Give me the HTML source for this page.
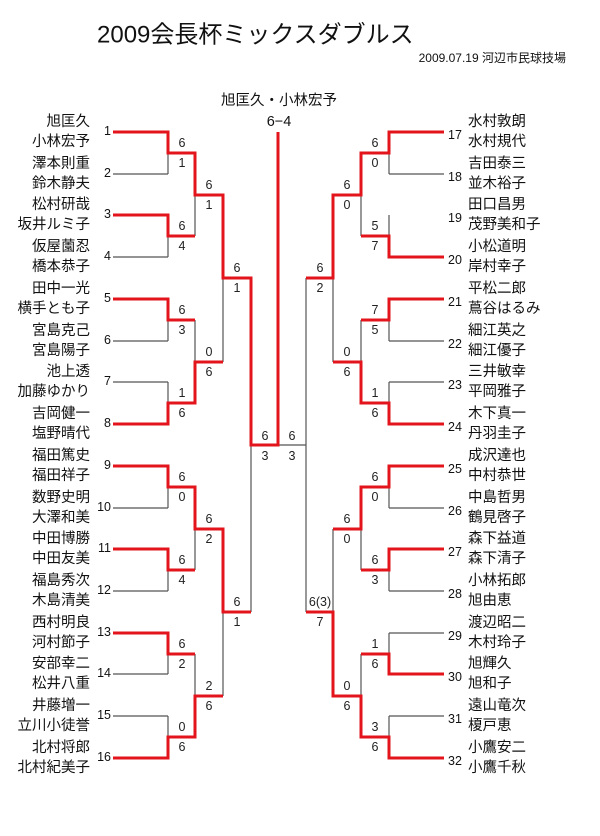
<!DOCTYPE html>
<html><head><meta charset="utf-8">
<style>
html,body{margin:0;padding:0;background:#fff;}
svg{display:block;}
text{font-family:"Liberation Sans","Noto Sans CJK JP",sans-serif;dominant-baseline:central;fill:#111;}
.nm{font-size:14.5px;}
.nl{text-anchor:end;}
.num{font-size:12.5px;}
.sc{font-size:12.5px;text-anchor:middle;fill:#222;}
</style></head><body>
<svg width="600" height="836" viewBox="0 0 600 836" xmlns="http://www.w3.org/2000/svg">
<text x="97" y="35" style="font-size:24px">2009会長杯ミックスダブルス</text>
<text x="566" y="58" style="font-size:12px;text-anchor:end">2009.07.19 河辺市民球技場</text>
<text x="279" y="101" style="font-size:14.5px;text-anchor:middle">旭匡久・小林宏予</text>
<text x="279" y="122" style="font-size:14.5px;text-anchor:middle">6−4</text>

<g stroke="#555" stroke-width="1.2" fill="none">
<path d="M113 174H168M113 257H168M113 341H168M113 382H168M113 508H168M113 591H168M113 674H168M113 716H168"/>
<path d="M168 132V174M168 215V257M168 299V341M168 382V424M168 466V508M168 549V591M168 633V674M168 716V758"/>
<path d="M195 153V236M195 320V403M195 487V570M195 654V737"/>
<path d="M223 195V362M223 529V696M251 278V612"/>
<path d="M444 174H389M444 299H389M444 341H389M444 382H389M444 508H389M444 591H389M444 633H389M444 716H389"/>
<path d="M389 132V174M389 215V257M389 299V341M389 382V424M389 466V508M389 549V591M389 633V674M389 716V758"/>
<path d="M361 153V236M361 320V403M361 487V570M361 654V737"/>
<path d="M333 195V362M333 529V696M306 278V612M306 445H278"/>
</g>
<g stroke="#e3141b" stroke-width="3" fill="none" stroke-linejoin="miter">
<path d="M113 132H168V153H195V195H223V278H251V445H278V132"/>
<path d="M113 215H168V236H195"/>
<path d="M113 299H168V320H195"/>
<path d="M113 424H168V403H195V362H223"/>
<path d="M113 466H168V487H195V529H223V612H251"/>
<path d="M113 549H168V570H195"/>
<path d="M113 633H168V654H195"/>
<path d="M113 758H168V737H195V696H223"/>
<path d="M444 132H389V153H361V195H333V278H306"/>
<path d="M444 257H389V236H361"/>
<path d="M444 299H389V320H361"/>
<path d="M444 424H389V403H361V362H333"/>
<path d="M444 466H389V487H361V529H333"/>
<path d="M444 549H389V570H361"/>
<path d="M444 674H389V654H361"/>
<path d="M444 758H389V737H361V696H333V612H306"/>
</g>

<g>
<text class="nm nl" x="90" y="122">旭匡久</text><text class="nm nl" x="90" y="142">小林宏予</text>
<text class="nm nl" x="90" y="164">澤本則重</text><text class="nm nl" x="90" y="184">鈴木静夫</text>
<text class="nm nl" x="90" y="205">松村研哉</text><text class="nm nl" x="90" y="225">坂井ルミ子</text>
<text class="nm nl" x="90" y="247">仮屋薗忍</text><text class="nm nl" x="90" y="267">橋本恭子</text>
<text class="nm nl" x="90" y="289">田中一光</text><text class="nm nl" x="90" y="309">横手とも子</text>
<text class="nm nl" x="90" y="331">宮島克己</text><text class="nm nl" x="90" y="351">宮島陽子</text>
<text class="nm nl" x="90" y="372">池上透</text><text class="nm nl" x="90" y="392">加藤ゆかり</text>
<text class="nm nl" x="90" y="414">吉岡健一</text><text class="nm nl" x="90" y="434">塩野晴代</text>
<text class="nm nl" x="90" y="456">福田篤史</text><text class="nm nl" x="90" y="476">福田祥子</text>
<text class="nm nl" x="90" y="498">数野史明</text><text class="nm nl" x="90" y="518">大澤和美</text>
<text class="nm nl" x="90" y="539">中田博勝</text><text class="nm nl" x="90" y="559">中田友美</text>
<text class="nm nl" x="90" y="581">福島秀次</text><text class="nm nl" x="90" y="601">木島清美</text>
<text class="nm nl" x="90" y="623">西村明良</text><text class="nm nl" x="90" y="643">河村節子</text>
<text class="nm nl" x="90" y="664">安部幸二</text><text class="nm nl" x="90" y="684">松井八重</text>
<text class="nm nl" x="90" y="706">井藤増一</text><text class="nm nl" x="90" y="726">立川小徒誉</text>
<text class="nm nl" x="90" y="748">北村将郎</text><text class="nm nl" x="90" y="768">北村紀美子</text>
</g>
<g>
<text class="nm" x="468" y="122">水村敦朗</text><text class="nm" x="468" y="142">水村規代</text>
<text class="nm" x="468" y="164">吉田泰三</text><text class="nm" x="468" y="184">並木裕子</text>
<text class="nm" x="468" y="205">田口昌男</text><text class="nm" x="468" y="225">茂野美和子</text>
<text class="nm" x="468" y="247">小松道明</text><text class="nm" x="468" y="267">岸村幸子</text>
<text class="nm" x="468" y="289">平松二郎</text><text class="nm" x="468" y="309">蔦谷はるみ</text>
<text class="nm" x="468" y="331">細江英之</text><text class="nm" x="468" y="351">細江優子</text>
<text class="nm" x="468" y="372">三井敏幸</text><text class="nm" x="468" y="392">平岡雅子</text>
<text class="nm" x="468" y="414">木下真一</text><text class="nm" x="468" y="434">丹羽圭子</text>
<text class="nm" x="468" y="456">成沢達也</text><text class="nm" x="468" y="476">中村恭世</text>
<text class="nm" x="468" y="498">中島哲男</text><text class="nm" x="468" y="518">鶴見啓子</text>
<text class="nm" x="468" y="539">森下益道</text><text class="nm" x="468" y="559">森下清子</text>
<text class="nm" x="468" y="581">小林拓郎</text><text class="nm" x="468" y="601">旭由恵</text>
<text class="nm" x="468" y="623">渡辺昭二</text><text class="nm" x="468" y="643">木村玲子</text>
<text class="nm" x="468" y="664">旭輝久</text><text class="nm" x="468" y="684">旭和子</text>
<text class="nm" x="468" y="706">遠山竜次</text><text class="nm" x="468" y="726">榎戸恵</text>
<text class="nm" x="468" y="748">小鷹安二</text><text class="nm" x="468" y="768">小鷹千秋</text>
</g>
<g>
<text class="num" x="111" y="131" text-anchor="end">1</text>
<text class="num" x="111" y="173" text-anchor="end">2</text>
<text class="num" x="111" y="214" text-anchor="end">3</text>
<text class="num" x="111" y="256" text-anchor="end">4</text>
<text class="num" x="111" y="298" text-anchor="end">5</text>
<text class="num" x="111" y="340" text-anchor="end">6</text>
<text class="num" x="111" y="381" text-anchor="end">7</text>
<text class="num" x="111" y="423" text-anchor="end">8</text>
<text class="num" x="111" y="465" text-anchor="end">9</text>
<text class="num" x="111" y="507" text-anchor="end">10</text>
<text class="num" x="111" y="548" text-anchor="end">11</text>
<text class="num" x="111" y="590" text-anchor="end">12</text>
<text class="num" x="111" y="632" text-anchor="end">13</text>
<text class="num" x="111" y="673" text-anchor="end">14</text>
<text class="num" x="111" y="715" text-anchor="end">15</text>
<text class="num" x="111" y="757" text-anchor="end">16</text>
</g>
<g>
<text class="num" x="448" y="135">17</text>
<text class="num" x="448" y="177">18</text>
<text class="num" x="448" y="218">19</text>
<text class="num" x="448" y="260">20</text>
<text class="num" x="448" y="302">21</text>
<text class="num" x="448" y="344">22</text>
<text class="num" x="448" y="385">23</text>
<text class="num" x="448" y="427">24</text>
<text class="num" x="448" y="469">25</text>
<text class="num" x="448" y="511">26</text>
<text class="num" x="448" y="552">27</text>
<text class="num" x="448" y="594">28</text>
<text class="num" x="448" y="636">29</text>
<text class="num" x="448" y="677">30</text>
<text class="num" x="448" y="719">31</text>
<text class="num" x="448" y="761">32</text>
</g>
<g>
<text class="sc" x="182" y="143">6</text><text class="sc" x="182" y="163">1</text>
<text class="sc" x="182" y="226">6</text><text class="sc" x="182" y="246">4</text>
<text class="sc" x="182" y="310">6</text><text class="sc" x="182" y="330">3</text>
<text class="sc" x="182" y="393">1</text><text class="sc" x="182" y="413">6</text>
<text class="sc" x="182" y="477">6</text><text class="sc" x="182" y="497">0</text>
<text class="sc" x="182" y="560">6</text><text class="sc" x="182" y="580">4</text>
<text class="sc" x="182" y="644">6</text><text class="sc" x="182" y="664">2</text>
<text class="sc" x="182" y="727">0</text><text class="sc" x="182" y="747">6</text>
<text class="sc" x="209" y="185">6</text><text class="sc" x="209" y="205">1</text>
<text class="sc" x="209" y="352">0</text><text class="sc" x="209" y="372">6</text>
<text class="sc" x="209" y="519">6</text><text class="sc" x="209" y="539">2</text>
<text class="sc" x="209" y="686">2</text><text class="sc" x="209" y="706">6</text>
<text class="sc" x="237" y="268">6</text><text class="sc" x="237" y="288">1</text>
<text class="sc" x="237" y="602">6</text><text class="sc" x="237" y="622">1</text>
<text class="sc" x="265" y="436">6</text><text class="sc" x="265" y="456">3</text>
<text class="sc" x="292" y="436">6</text><text class="sc" x="292" y="456">3</text>
</g>
<g>
<text class="sc" x="375" y="143">6</text><text class="sc" x="375" y="163">0</text>
<text class="sc" x="375" y="226">5</text><text class="sc" x="375" y="246">7</text>
<text class="sc" x="375" y="310">7</text><text class="sc" x="375" y="330">5</text>
<text class="sc" x="375" y="393">1</text><text class="sc" x="375" y="413">6</text>
<text class="sc" x="375" y="477">6</text><text class="sc" x="375" y="497">0</text>
<text class="sc" x="375" y="560">6</text><text class="sc" x="375" y="580">3</text>
<text class="sc" x="375" y="644">1</text><text class="sc" x="375" y="664">6</text>
<text class="sc" x="375" y="727">3</text><text class="sc" x="375" y="747">6</text>
<text class="sc" x="347" y="185">6</text><text class="sc" x="347" y="205">0</text>
<text class="sc" x="347" y="352">0</text><text class="sc" x="347" y="372">6</text>
<text class="sc" x="347" y="519">6</text><text class="sc" x="347" y="539">0</text>
<text class="sc" x="347" y="686">0</text><text class="sc" x="347" y="706">6</text>
<text class="sc" x="320" y="268">6</text><text class="sc" x="320" y="288">2</text>
<text class="sc" x="320" y="602">6(3)</text><text class="sc" x="320" y="622">7</text>
</g>
</svg>
</body></html>
